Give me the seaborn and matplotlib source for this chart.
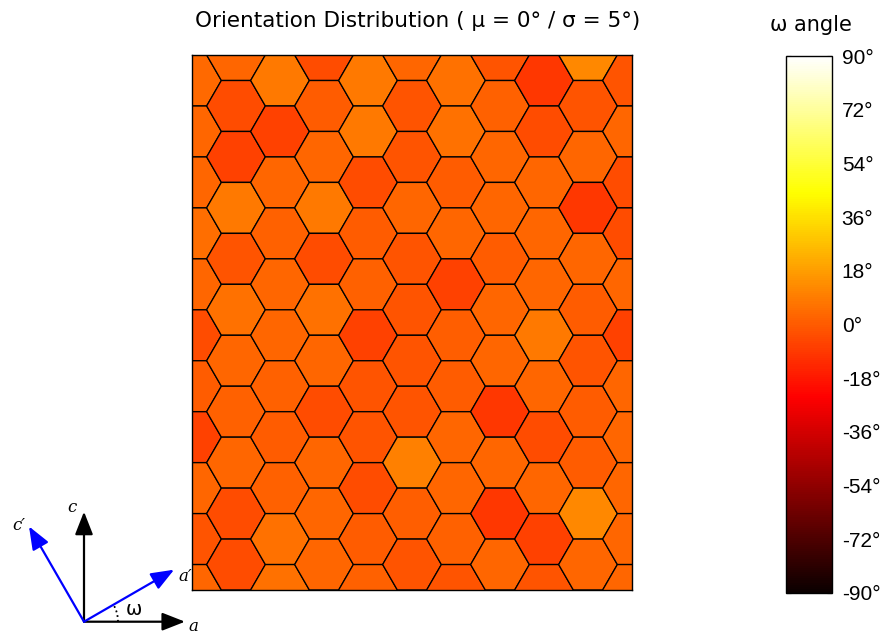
import numpy as np
import pandas as pd
import matplotlib
matplotlib.use("Agg")
import matplotlib.pyplot as plt
import seaborn as sns
from matplotlib.colors import Normalize
from matplotlib.cm import ScalarMappable
from matplotlib.patches import Arc

sns.set_theme(style="white")
plt.rcParams["font.family"] = ["DejaVu Sans"]
plt.rcParams["text.color"] = "black"
plt.rcParams["ytick.color"] = "black"
plt.rcParams["xtick.color"] = "black"
plt.rcParams["ytick.labelcolor"] = "black"

# Grain orientation omega (degrees) for each hexagon column, listed top to bottom
col_0 = [3.8, 3.0, 3.2, 5.0, 3.0, -4.0, 0.0, -7.0, 3.5, -2.0, 3.5]
col_1 = [3.2, -4.0, -7.0, 8.0, -2.0, 6.0, 3.5, 2.0, 3.5, -4.0, -4.0]
col_2 = [8.0, -7.0, 3.5, 2.0, 3.5, 3.5, 2.0, 0.0, 2.0, 6.0, 6.0]
col_3 = [-4.0, 0.0, 3.5, 8.0, -4.0, 6.0, 3.5, -4.0, 3.5, 3.5, 3.5]
col_4 = [8.0, 8.0, -4.0, 0.0, 2.0, -7.0, -2.0, -2.0, -4.0, 0.0, 2.0]
col_5 = [3.5, -2.0, -2.0, 3.5, -2.0, -2.0, -2.0, -2.0, 10.0, 1.0, -2.0]
col_6 = [6.0, 6.0, 0.0, 3.5, -7.0, 1.0, 0.0, 3.5, 3.5, 2.0, -2.0]
col_7 = [-2.0, 2.0, 3.5, 3.5, 0.0, 3.5, 3.5, -9.5, 3.5, -9.5, 3.5]
col_8 = [-9.5, -4.0, 3.5, 3.5, 3.5, 8.0, 3.5, -4.0, 3.5, -7.0, -2.0]
col_9 = [12.0, -2.0, 3.5, -9.5, 3.5, 0.0, -2.0, 0.0, 0.0, 12.0, 3.5]
col_10 = [-2.0, 3.5, -4.0, -4.0, 3.5, -7.0, 3.5, 3.5, 3.5, 3.5, 3.5]
columns = [col_0, col_1, col_2, col_3, col_4, col_5, col_6, col_7, col_8, col_9, col_10]

mu_deg, sigma_deg = 0, 5
cbar_ticks = list(range(-90, 91, 18))
cbar_labels = [f"{t}°" for t in cbar_ticks]

W, H = 891, 636
fig = plt.figure(figsize=(W / 100, H / 100), dpi=100)


def px_rect(x0, y0, x1, y1):
    return [x0 / W, 1 - y1 / H, (x1 - x0) / W, (y1 - y0) / H]


# --- hexagonal grain map -------------------------------------------------
R = 1.0
step_x = 1.5 * R
step_y = np.sqrt(3) * R

cells = []
for i, col in enumerate(columns):
    shift = 0.5 * step_y if i % 2 == 0 else 0.0
    for k, v in enumerate(col):
        cells.append({"x": i * step_x, "y": k * step_y + shift, "omega": v})
cells = pd.DataFrame(cells)

ax = fig.add_axes(px_rect(192, 55, 632, 590))
xlim = (0, (len(columns) - 1) * step_x)
ylim = (10.5 * step_y, 0)
ax.set_xlim(*xlim)
ax.set_ylim(*ylim)

r_px = abs(ax.transData.transform((R, 0))[0] - ax.transData.transform((0, 0))[0])
marker_pt = 2 * r_px * 72 / fig.dpi

cmap = sns.color_palette("hot", as_cmap=True)
norm = Normalize(-90, 90)

sns.scatterplot(data=cells, x="x", y="y", hue="omega", palette=cmap,
                hue_norm=(-90, 90), marker="H", s=marker_pt ** 2,
                edgecolor="black", linewidth=0.9, legend=False, ax=ax)
ax.set_xlim(*xlim)
ax.set_ylim(*ylim)
ax.set_xticks([])
ax.set_yticks([])
ax.set_xlabel("")
ax.set_ylabel("")
for sp in ax.spines.values():
    sp.set_color("black")
    sp.set_linewidth(1.0)

fig.text(418 / W, 1 - 21 / H,
         f"Orientation Distribution ( μ = {mu_deg}° / σ = {sigma_deg}°)",
         ha="center", va="center", fontsize=15.5, color="black")

# --- colour bar ------------------------------------------------------------
cax = fig.add_axes(px_rect(786, 56, 832, 593))
sm = ScalarMappable(norm=norm, cmap=cmap)
cb = fig.colorbar(sm, cax=cax, ticks=cbar_ticks)
cb.ax.set_yticklabels(cbar_labels, fontfamily="Liberation Sans", fontsize=15,
                      color="black")
cb.outline.set_edgecolor("black")
cb.outline.set_linewidth(1.0)
cax.tick_params(axis="y", direction="in", left=True, right=True,
                length=3.5, width=0.8, color="black", labelcolor="black", pad=7)
fig.text(811 / W, 1 - 25 / H, "ω angle", ha="center", va="center",
         fontsize=15, color="black")

# --- axis rotation sketch ----------------------------------------------------
omega_sketch = 30
len_a, len_c = 101, 110
dax = fig.add_axes(px_rect(0, 490, 200, 636))
dax.set_xlim(-84, 116)
dax.set_ylim(-14.3, 131.7)
dax.axis("off")


def arrow(end, color):
    dax.annotate("", xy=end, xytext=(0, 0),
                 arrowprops=dict(arrowstyle="-|>,head_length=1.4,head_width=0.55",
                                 mutation_scale=10, lw=1.6, color=color,
                                 shrinkA=0, shrinkB=0))


th = np.deg2rad(omega_sketch)
arrow((len_a, 0), "black")
arrow((0, len_c), "black")
arrow((len_a * 1.03 * np.cos(th), len_a * 1.03 * np.sin(th)), "blue")
arrow((len_c * np.cos(th + np.pi / 2), len_c * np.sin(th + np.pi / 2)), "blue")
dax.add_patch(Arc((0, 0), 68, 68, theta1=0, theta2=omega_sketch,
                  color="black", lw=1.3, linestyle=":"))

serif = dict(family="DejaVu Serif", style="italic", fontsize=12, color="black")
dax.text(104, -5, "a", ha="left", va="center", **serif)
dax.text(-7, 114, "c", ha="right", va="center", **serif)
dax.text(94, 45, "a′", ha="left", va="center", **serif)
dax.text(-59, 96, "c′", ha="right", va="center", **serif)
dax.text(42, 12, "ω", ha="left", va="center", fontsize=14, color="black")

fig.savefig("out.png", dpi=100)
